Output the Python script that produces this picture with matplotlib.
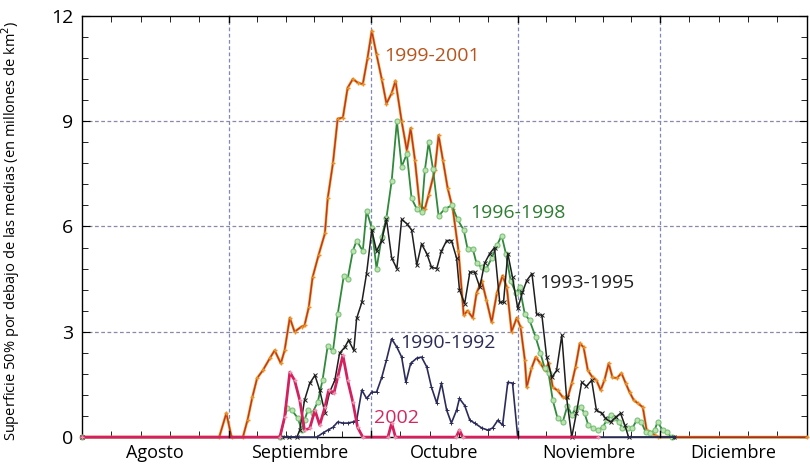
import matplotlib
matplotlib.use("Agg")
import matplotlib.pyplot as plt
import numpy as np

# x = days since 1 August, y = millions of km^2
month_names = ["Agosto", "Septiembre", "Octubre", "Noviembre", "Diciembre"]
month_days = [31, 30, 31, 30, 31]
y_ticks = [0, 3, 6, 9, 12]

d_9901 = [0, 29, 30.5, 31.6, 34, 35, 36, 37, 38.2, 39.7, 40.7, 42, 42.8, 43.9, 44.9, 46.4, 47, 47.9, 48.7,
          50, 51.3, 51.9, 53, 54, 55.1, 56.1, 57.2, 58.2, 59.3, 60.3, 61.2, 62.2, 63.3, 64.3, 65.4, 66.2,
          67.5, 68.6, 69.4, 70.3, 71.3, 72.4, 73.2, 74.5, 75.3, 76.2, 77.2, 78.3, 79.5, 80.6, 81.4, 82.5,
          83.3, 84.4, 85.4, 86.5, 87.6, 88.8, 89.7, 90.7, 91.8, 92.6, 93.5, 93.9, 94.9, 95.8, 96.8, 97.7,
          98.5, 99.4, 100.4, 101.5, 102.5, 103.4, 104.2, 105.1, 105.9, 106.8, 107.8, 108.6, 109.5, 110.3,
          111.2, 112, 112.9, 113.9, 114.8, 115.6, 116.5, 117.3, 118.4, 119.2, 120, 120.9, 121.7, 153]
v_9901 = [0, 0, 0.68, 0, 0, 0.5, 1.14, 1.68, 1.9, 2.25, 2.47, 2.1, 2.47, 3.4, 3.0, 3.15, 3.18, 3.7, 4.55,
          5.2, 5.8, 6.8, 7.8, 9.07, 9.1, 9.95, 10.2, 10.1, 10.05, 10.8, 11.57, 10.9, 10.2, 9.5, 9.8, 10.15,
          9.0, 8.16, 8.8, 7.9, 6.6, 6.5, 6.9, 7.6, 8.6, 7.9, 7.1, 6.5, 5.3, 3.47, 3.6, 3.4,
          4.1, 4.46, 3.9, 3.27, 4.1, 4.6, 4.27, 3.0, 3.4, 3.13, 2.2, 1.42, 1.96, 2.28, 2.1, 1.9,
          2.1, 1.42, 1.33, 1.14, 1.1, 1.53, 2.0, 2.67, 2.56, 1.9, 1.7, 1.62, 1.34, 1.62,
          2.1, 1.7, 1.68, 1.82, 1.53, 1.28, 1.05, 0.97, 0.85, 0.2, 0.15, 0.06, 0, 0]

d_9698 = [0, 41.8, 43.3, 44.3, 45.6, 46.4, 47, 47.7, 48.7, 49.8, 50.8, 51.9, 53, 54, 55.3, 56.1, 57.2, 58,
          59.3, 60.1, 61.2, 62.2, 63.3, 64.3, 65.4, 66.5, 67.5, 68.6, 69.6, 70.7, 71.7, 72.4, 73.2, 74.1,
          75.3, 76.6, 78.1, 79.3, 80.6, 81.4, 82.5, 83.3, 84.4, 85.4, 86.5, 87.6, 88.6, 89.5, 90.5, 91.6,
          92.4, 93.5, 94.5, 95.8, 96.8, 97.7, 98.5, 99.4, 100.4, 101.5, 102.5, 103.4, 104.2, 105.3, 106.1,
          106.9, 107.8, 108.9, 109.9, 110.8, 111.6, 112.4, 113.3, 114.1, 115.2, 116.2, 117.1, 118.1, 119,
          120, 120.9, 121.5, 122.6, 123.4, 124.5]
v_9698 = [0, 0, 0.82, 0.77, 0.54, 0.2, 0.48, 0.77, 0.7, 1.0, 1.62, 2.6, 2.45, 3.5, 4.6, 4.5, 5.3, 5.6,
          5.3, 6.45, 5.95, 4.8, 5.7, 6.25, 7.3, 9.0, 7.7, 8.07, 6.8, 6.5, 6.4, 7.6, 8.4, 7.65,
          6.3, 6.5, 6.6, 6.2, 5.9, 5.37, 5.37, 4.95, 4.84, 4.8, 5.1, 5.46, 5.74, 5.23, 4.46, 4.1,
          4.27, 3.5, 3.33, 2.84, 2.39, 1.96, 1.82, 1.05, 0.54, 0.43, 0.9, 0.63, 0.82, 0.85, 0.68,
          0.34, 0.26, 0.2, 0.28, 0.48, 0.63, 0.54, 0.43, 0.26, 0.26, 0.26, 0.48, 0.43, 0.14,
          0.11, 0.2, 0.43, 0.2, 0.14, 0]

d_9395 = [0, 42.2, 43.7, 45.4, 46, 47, 48.1, 49.2, 50.2, 51.3, 52.3, 53.4, 54.4, 55.5, 56.3, 57.4, 58,
          59.1, 60.1, 61.2, 62.2, 63.3, 64.3, 65.4, 66.5, 67.5, 68.6, 69.6, 70.7, 71.7, 72.8, 73.8, 74.9,
          75.9, 77, 78, 79.1, 79.7, 80.8, 81.9, 82.9, 84, 85, 86.1, 87.1, 88.2, 89, 89.9, 90.9, 92, 93,
          93.9, 95, 96, 97.1, 98.1, 99.2, 100.2, 101.3, 102.3, 103.4, 104.4, 105.5, 106.5, 107.6, 108.6,
          109.7, 110.5, 111.6, 112.7, 113.7, 114.6, 115.4, 125]
v_9395 = [0, 0, 0, 0, 0.2, 1.05, 1.53, 1.76, 1.34, 0.7, 1.28, 1.62, 2.39, 2.56, 2.76, 2.47, 3.38,
          3.84, 4.66, 5.9, 5.3, 5.6, 6.2, 5.1, 4.8, 6.2, 6.08, 5.9, 4.9, 5.5, 5.23, 4.84, 4.8,
          5.3, 5.6, 5.6, 5.1, 4.2, 3.8, 4.7, 4.7, 4.27, 4.95, 5.23, 5.4, 3.84, 3.84, 5.23, 4.55, 3.67, 4.12,
          4.46, 4.66, 3.5, 3.47, 2.28, 1.7, 1.9, 2.9, 1.14, 0, 0.7, 1.56, 1.45, 1.62, 0.77,
          0.68, 0.54, 0.43, 0.57, 0.68, 0.34, 0, 0]

d_9092 = [0, 49.6, 50.8, 51.9, 53, 54, 55.1, 56.1, 57.2, 58, 59.1, 60.1, 61.2, 62.2, 63.3, 64.3, 65.4,
          66.5, 67.5, 68.4, 69.4, 70.7, 71.7, 72.8, 73.8, 74.9, 75.9, 77, 78, 79.1, 79.7, 80.8, 81.9, 82.9,
          84.4, 85.7, 86.7, 87.8, 88.8, 89.9, 90.9, 92, 125]
v_9092 = [0, 0, 0.11, 0.2, 0.28, 0.43, 0.4, 0.4, 0.43, 0.48, 1.34, 1.1, 1.28, 1.28, 1.7, 2.2, 2.8,
          2.56, 2.28, 1.56, 2.1, 2.25, 2.28, 2.0, 1.42, 0.97, 1.54, 0.77, 0.4, 0.77, 1.1, 0.9, 0.48, 0.4,
          0.26, 0.2, 0.26, 0.48, 0.34, 1.56, 1.54, 0, 0]

d_2002 = [0, 41.8, 42.8, 43.9, 44.9, 46, 47, 48.1, 49.2, 50.2, 51.3, 52.1, 53.2, 54, 55.1, 56.1, 57.2,
          58.2, 59.3, 64.6, 65.4, 66.2, 79, 79.7, 80.4, 109]
v_2002 = [0, 0, 0.57, 1.85, 1.62, 1.05, 0.2, 0.25, 0.77, 0.34, 0.85, 1.34, 1.25, 1.7, 2.33, 1.62, 1.0,
          0.28, 0, 0, 0.4, 0, 0, 0.2, 0, 0]

labels = ["1999-2001", "1996-1998", "1993-1995", "1990-1992", "2002"]

fig = plt.figure(figsize=(8.1, 4.66), dpi=100)
ax = fig.add_axes([0.101, 0.062, 0.895, 0.904])

month_edges = np.concatenate([[0], np.cumsum(month_days)])
for e in month_edges[1:-1]:
    ax.axvline(e, color="#8088b8", lw=0.9, ls=(0, (3, 2)), zorder=1)
for yv in y_ticks[1:-1]:
    ax.axhline(yv, color="#8a8aa8", lw=0.9, ls=(0, (3, 2)), zorder=1)

# 1999-2001: orange halo + red-brown line
ax.plot(d_9901, v_9901, color="#f5b24a", lw=2.0, zorder=2, solid_joinstyle="round", clip_on=False)
ax.plot(d_9901, v_9901, color="#c0381c", lw=1.1, marker="+", ms=3, mec="#e8902a", zorder=3, clip_on=False)
# 1996-1998 green
ax.plot(d_9698, v_9698, color="#2f8a3a", lw=1.3, marker="o", ms=3.6, mfc="#bfe3b0",
        mec="#79c27a", mew=0.8, zorder=4, clip_on=False)
# 1993-1995 black
ax.plot(d_9395, v_9395, color="#1e1e1e", lw=1.1, marker="x", ms=3, mew=0.7, zorder=5, clip_on=False)
# 1990-1992 navy
ax.plot(d_9092, v_9092, color="#2c2c5c", lw=1.2, marker="+", ms=3, mew=0.7, zorder=5, clip_on=False)
# 2002 crimson
ax.plot(d_2002, v_2002, color="#d4205e", lw=2.0, marker="+", ms=3, mec="#f090b0", zorder=6, clip_on=False)

fs = 14
ax.text(63.9, 10.85, labels[0], color="#b8541c", fontsize=fs, family="Open Sans", va="center")
ax.text(82.0, 6.38, labels[1], color="#2e7d32", fontsize=fs, family="Open Sans", va="center")
ax.text(96.6, 4.38, labels[2], color="#222222", fontsize=fs, family="Open Sans", va="center")
ax.text(67.2, 2.68, labels[3], color="#2b2b55", fontsize=fs, family="Open Sans", va="center")
ax.text(61.7, 0.55, labels[4], color="#d02860", fontsize=fs, family="Open Sans", va="center")

ax.set_xlim(0, month_edges[-1])
ax.set_ylim(0, 12)

# month labels centered
mids = (month_edges[:-1] + month_edges[1:]) / 2
ax.set_xticks(mids)
ax.set_xticklabels(month_names, fontsize=13, family="Open Sans")
ax.tick_params(axis="x", which="major", length=0, pad=5)
minor_x = []
for i in range(len(month_days)):
    for k in range(1, 5):
        minor_x.append(month_edges[i] + month_days[i] * k / 5)
ax.set_xticks(minor_x, minor=True)
ax.tick_params(axis="x", which="minor", direction="in", length=4, top=True, bottom=True)
for e in month_edges[1:-1]:
    ax.plot([e, e], [12, 11.82], color="k", lw=1, zorder=7, clip_on=False)
    ax.plot([e, e], [0, 0.18], color="k", lw=1, zorder=7, clip_on=False)

ax.set_yticks(y_ticks)
ax.set_yticklabels([str(t) for t in y_ticks], fontsize=14, family="Open Sans")
ax.set_yticks(np.arange(0, 12.01, 0.6), minor=True)
ax.tick_params(axis="y", which="major", direction="in", length=6, left=True, right=True, pad=6)
ax.tick_params(axis="y", which="minor", direction="in", length=4, left=True, right=True)

ax.set_ylabel("Superficie 50% por debajo de las medias (en millones de km$^2$)",
              fontsize=10.5, family=["Liberation Sans Narrow", "Open Sans"], labelpad=14)
ax.yaxis.set_label_coords(-0.083, 0.49)

for s in ax.spines.values():
    s.set_linewidth(1.0)

fig.savefig("out.png", dpi=100)
